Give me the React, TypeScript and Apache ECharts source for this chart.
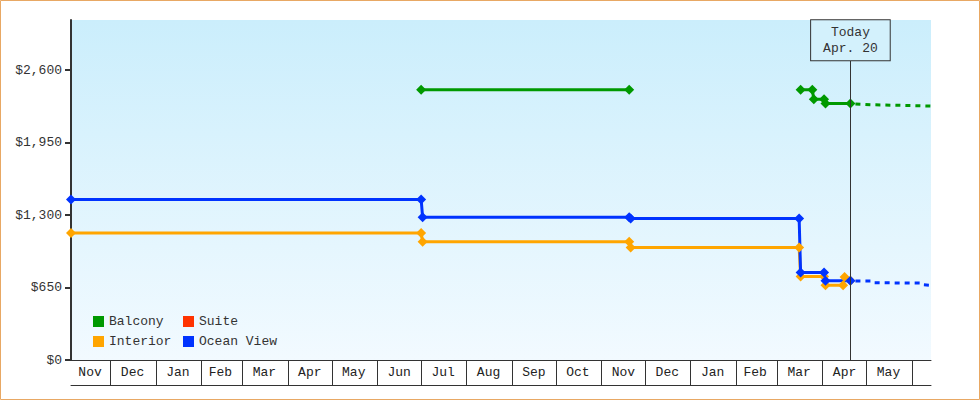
import React, { useEffect, useRef } from 'react';
import * as echarts from 'echarts';

// ---------- data ----------
const AXIS_MIN = '2024-11-04';
const AXIS_MAX = '2026-06-14';
const TODAY = '2026-04-20';
const TODAY_LABEL = 'Today\nApr. 20';
const TODAY_BOX_BOTTOM = 2690; // value where the "Today" box sits

const Y_TICKS = [0, 650, 1300, 1950, 2600];
const Y_MAX = 3050;

const MONTH_NAMES = ['Jan', 'Feb', 'Mar', 'Apr', 'May', 'Jun', 'Jul', 'Aug', 'Sep', 'Oct', 'Nov', 'Dec'];
const MONTH_STARTS = [
  '2024-12-01', '2025-01-01', '2025-02-01', '2025-03-01', '2025-04-01', '2025-05-01',
  '2025-06-01', '2025-07-01', '2025-08-01', '2025-09-01', '2025-10-01', '2025-11-01',
  '2025-12-01', '2026-01-01', '2026-02-01', '2026-03-01', '2026-04-01', '2026-05-01', '2026-06-01',
];
const MONTH_LABEL_AT = [
  '2024-11-17', '2024-12-16', '2025-01-16', '2025-02-14', '2025-03-16', '2025-04-16',
  '2025-05-16', '2025-06-16', '2025-07-16', '2025-08-16', '2025-09-16', '2025-10-16',
  '2025-11-16', '2025-12-16', '2026-01-16', '2026-02-14', '2026-03-16', '2026-04-16', '2026-05-16',
];

type Pt = [string, number | string];

const balcony: Pt[] = [
  ['2025-07-01', 2425], ['2025-11-20', 2425], ['2026-01-01', '-'],
  ['2026-03-17', 2425], ['2026-03-25', 2425], ['2026-03-26', 2340],
  ['2026-04-02', 2340], ['2026-04-03', 2300], ['2026-04-20', 2300],
];
const balconyForecast: Pt[] = [
  ['2026-04-20', 2300], ['2026-05-04', 2290], ['2026-06-01', 2282], ['2026-06-14', 2278],
];
const suite: Pt[] = [];
const interior: Pt[] = [
  ['2024-11-04', 1140], ['2025-07-01', 1140], ['2025-07-02', 1060], ['2025-11-20', 1060],
  ['2025-11-21', 1010], ['2026-03-16', 1010], ['2026-03-17', 750], ['2026-04-02', 750],
  ['2026-04-03', 670], ['2026-04-15', 670], ['2026-04-16', 745], ['2026-04-20', 710],
];
const oceanView: Pt[] = [
  ['2024-11-04', 1440], ['2025-07-01', 1440], ['2025-07-02', 1280], ['2025-11-20', 1280],
  ['2025-11-21', 1270], ['2026-03-16', 1270], ['2026-03-17', 785], ['2026-04-02', 785],
  ['2026-04-03', 710], ['2026-04-20', 710],
];
const oceanViewForecast: Pt[] = [
  ['2026-04-20', 710], ['2026-05-04', 708], ['2026-05-05', 693], ['2026-06-07', 690],
  ['2026-06-08', 675], ['2026-06-14', 670],
];

// ---------- style ----------
const FONT = "'Liberation Mono', 'DejaVu Sans Mono', monospace";
const INK = '#333';
const C_BALCONY = '#009900';
const C_SUITE = '#ff3300';
const C_INTERIOR = '#ffa500';
const C_OCEAN = '#0033ff';

const ts = (s: string) => {
  const [y, m, d] = s.split('-').map(Number);
  return new Date(y, m - 1, d).getTime();
};
const toXY = (data: Pt[]) => data.map(([d, v]) => [ts(d), v]);

function buildOption() {
  const solid = (name: string, color: string, data: Pt[]) => ({
    name,
    type: 'line',
    xAxisIndex: 0,
    data: toXY(data),
    color,
    symbol: 'diamond',
    symbolSize: 10,
    showSymbol: true,
    connectNulls: false,
    lineStyle: { width: 3, color },
    itemStyle: { color },
    emphasis: { disabled: true },
    z: 3,
  });
  const dashed = (name: string, color: string, data: Pt[]) => ({
    name,
    type: 'line',
    xAxisIndex: 0,
    data: toXY(data),
    color,
    showSymbol: false,
    symbol: 'none',
    lineStyle: { width: 3, color, type: [5, 5], dashOffset: -5 },
    emphasis: { disabled: true },
    z: 2,
  });

  const xBase = {
    type: 'value',
    min: ts(AXIS_MIN),
    max: ts(AXIS_MAX),
    position: 'bottom',
    splitLine: { show: false },
  };

  const legendBase = {
    orient: 'vertical',
    top: 315,
    padding: 0,
    itemWidth: 11,
    itemHeight: 11,
    itemGap: 7,
    icon: 'rect',
    selectedMode: false,
    textStyle: { fontFamily: FONT, fontSize: 13, color: INK, lineHeight: 12 },
  };

  return {
    animation: false,
    textStyle: { fontFamily: FONT },
    graphic: [
      {
        type: 'rect',
        shape: { x: 0.5, y: 0.5, width: 979, height: 399 },
        style: { fill: 'none', stroke: '#e8a864', lineWidth: 1 },
        silent: true,
      },
    ],
    grid: {
      left: 71,
      right: 49,
      top: 20,
      bottom: 40,
      show: true,
      borderWidth: 0,
      backgroundColor: new echarts.graphic.LinearGradient(0, 0, 0, 1, [
        { offset: 0, color: '#cbeefc' },
        { offset: 1, color: '#f2faff' },
      ]),
    },
    legend: [
      { ...legendBase, data: ['Balcony', 'Interior'], left: 93 },
      { ...legendBase, data: ['Suite', 'Ocean View'], left: 183 },
    ],
    xAxis: [
      {
        ...xBase,
        axisLine: { show: true, onZero: false, lineStyle: { color: INK, width: 1 } },
        axisTick: {
          show: true,
          length: 25,
          inside: false,
          customValues: MONTH_STARTS.map(ts),
          lineStyle: { color: INK, width: 1 },
        },
        axisLabel: {
          show: true,
          customValues: MONTH_LABEL_AT.map(ts),
          formatter: (v: number) => MONTH_NAMES[new Date(v).getMonth()],
          fontFamily: FONT,
          fontSize: 13,
          color: '#222',
          margin: 6,
          showMinLabel: true,
          showMaxLabel: true,
        },
      },
      {
        ...xBase,
        offset: 25,
        axisLine: { show: true, onZero: false, lineStyle: { color: INK, width: 1 } },
        axisTick: { show: false },
        axisLabel: { show: false },
      },
    ],
    yAxis: {
      type: 'value',
      min: 0,
      max: Y_MAX,
      axisLine: { show: true, onZero: false, lineStyle: { color: INK, width: 2 } },
      axisTick: {
        show: true,
        length: 6,
        customValues: Y_TICKS,
        lineStyle: { color: INK, width: 2 },
      },
      axisLabel: {
        show: true,
        customValues: Y_TICKS,
        formatter: (v: number) => '$' + v.toLocaleString('en-US'),
        fontFamily: FONT,
        fontSize: 13,
        color: INK,
        margin: 9,
      },
      splitLine: { show: false },
    },
    series: [
      {
        name: 'today',
        type: 'line',
        xAxisIndex: 0,
        data: [],
        z: 1,
        markLine: {
          silent: true,
          symbol: ['none', 'none'],
          animation: false,
          lineStyle: { color: INK, width: 1, type: 'solid' },
          label: {
            show: true,
            position: 'end',
            distance: 0,
            formatter: TODAY_LABEL,
            fontFamily: FONT,
            fontSize: 13,
            lineHeight: 16,
            color: INK,
            backgroundColor: '#d3f1fc',
            borderColor: INK,
            borderWidth: 1,
            padding: [4, 12, 4, 12],
          },
          data: [
            [
              { coord: [ts(TODAY), 0] },
              { coord: [ts(TODAY), TODAY_BOX_BOTTOM] },
            ],
          ],
        },
      },
      dashed('Balcony forecast', C_BALCONY, balconyForecast),
      dashed('Ocean View forecast', C_OCEAN, oceanViewForecast),
      solid('Balcony', C_BALCONY, balcony),
      solid('Suite', C_SUITE, suite),
      solid('Interior', C_INTERIOR, interior),
      solid('Ocean View', C_OCEAN, oceanView),
    ],
  };
}

export default function App() {
  const ref = useRef<HTMLDivElement>(null);
  useEffect(() => {
    if (!ref.current) return;
    const chart = echarts.init(ref.current, undefined, { renderer: 'svg' });
    chart.setOption(buildOption() as any);
    return () => chart.dispose();
  }, []);
  return (
    <div
      ref={ref}
      style={{ position: 'fixed', left: 0, top: 0, width: 980, height: 400, background: '#fff' }}
    />
  );
}
